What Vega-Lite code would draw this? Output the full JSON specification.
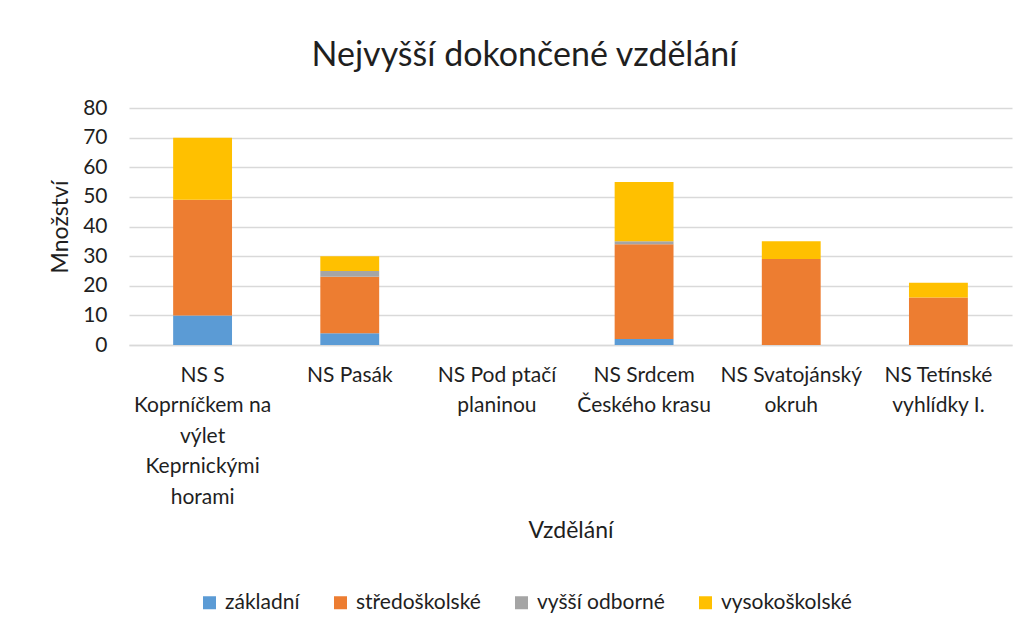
{
  "$schema": "https://vega.github.io/schema/vega-lite/v6.json",
  "autosize": "none",
  "width": 883,
  "height": 237,
  "padding": {"left": 129, "top": 108, "right": 16, "bottom": 289},
  "background": "white",
  "config": {
    "font": "Lato",
    "view": {"stroke": null},
    "axis": {"labelColor": "#1f1f1f", "titleColor": "#1f1f1f", "labelFont": "Lato", "titleFont": "Lato", "titleFontWeight": "normal"},
    "legend": {"labelColor": "#1f1f1f", "labelFont": "Lato"}
  },
  "title": {
    "text": "Nejvyšší dokončené vzdělání",
    "fontSize": 34,
    "fontWeight": "normal",
    "color": "#1f1f1f",
    "font": "Lato",
    "anchor": "middle",
    "dx": -46,
    "offset": 24
  },
  "data": {
    "values": [
      {"trasa": "NS S|Koprníčkem na|výlet|Keprnickými|horami", "vzdelani": "základní", "poradi": 1, "pocet": 10},
      {"trasa": "NS S|Koprníčkem na|výlet|Keprnickými|horami", "vzdelani": "středoškolské", "poradi": 2, "pocet": 39},
      {"trasa": "NS S|Koprníčkem na|výlet|Keprnickými|horami", "vzdelani": "vyšší odborné", "poradi": 3, "pocet": 0},
      {"trasa": "NS S|Koprníčkem na|výlet|Keprnickými|horami", "vzdelani": "vysokoškolské", "poradi": 4, "pocet": 21},
      {"trasa": "NS Pasák", "vzdelani": "základní", "poradi": 1, "pocet": 4},
      {"trasa": "NS Pasák", "vzdelani": "středoškolské", "poradi": 2, "pocet": 19},
      {"trasa": "NS Pasák", "vzdelani": "vyšší odborné", "poradi": 3, "pocet": 2},
      {"trasa": "NS Pasák", "vzdelani": "vysokoškolské", "poradi": 4, "pocet": 5},
      {"trasa": "NS Pod ptačí|planinou", "vzdelani": "základní", "poradi": 1, "pocet": 0},
      {"trasa": "NS Pod ptačí|planinou", "vzdelani": "středoškolské", "poradi": 2, "pocet": 0},
      {"trasa": "NS Pod ptačí|planinou", "vzdelani": "vyšší odborné", "poradi": 3, "pocet": 0},
      {"trasa": "NS Pod ptačí|planinou", "vzdelani": "vysokoškolské", "poradi": 4, "pocet": 0},
      {"trasa": "NS Srdcem|Českého krasu", "vzdelani": "základní", "poradi": 1, "pocet": 2},
      {"trasa": "NS Srdcem|Českého krasu", "vzdelani": "středoškolské", "poradi": 2, "pocet": 32},
      {"trasa": "NS Srdcem|Českého krasu", "vzdelani": "vyšší odborné", "poradi": 3, "pocet": 1},
      {"trasa": "NS Srdcem|Českého krasu", "vzdelani": "vysokoškolské", "poradi": 4, "pocet": 20},
      {"trasa": "NS Svatojánský|okruh", "vzdelani": "základní", "poradi": 1, "pocet": 0},
      {"trasa": "NS Svatojánský|okruh", "vzdelani": "středoškolské", "poradi": 2, "pocet": 29},
      {"trasa": "NS Svatojánský|okruh", "vzdelani": "vyšší odborné", "poradi": 3, "pocet": 0},
      {"trasa": "NS Svatojánský|okruh", "vzdelani": "vysokoškolské", "poradi": 4, "pocet": 6},
      {"trasa": "NS Tetínské|vyhlídky I.", "vzdelani": "základní", "poradi": 1, "pocet": 0},
      {"trasa": "NS Tetínské|vyhlídky I.", "vzdelani": "středoškolské", "poradi": 2, "pocet": 16},
      {"trasa": "NS Tetínské|vyhlídky I.", "vzdelani": "vyšší odborné", "poradi": 3, "pocet": 0},
      {"trasa": "NS Tetínské|vyhlídky I.", "vzdelani": "vysokoškolské", "poradi": 4, "pocet": 5}
    ]
  },
  "mark": {"type": "bar"},
  "encoding": {
    "x": {
      "field": "trasa",
      "type": "nominal",
      "sort": null,
      "scale": {"paddingInner": 0.6, "paddingOuter": 0.3},
      "axis": {
        "title": "Vzdělání",
        "titleFontSize": 23,
        "titlePadding": 12,
        "labelAngle": 0,
        "labelFontSize": 21,
        "labelLineHeight": 30.5,
        "labelPadding": 19,
        "labelLimit": 300,
        "labelExpr": "split(datum.label, '|')",
        "ticks": false,
        "domainColor": "#D9D9D9",
        "domainWidth": 1.5
      }
    },
    "y": {
      "field": "pocet",
      "type": "quantitative",
      "stack": "zero",
      "scale": {"domain": [0, 80], "nice": false},
      "axis": {
        "title": "Množství",
        "titleFontSize": 23,
        "titlePadding": 10,
        "values": [0, 10, 20, 30, 40, 50, 60, 70, 80],
        "labelFontSize": 21,
        "labelPadding": 22,
        "ticks": false,
        "domain": false,
        "gridColor": "#D9D9D9",
        "gridWidth": 1.5
      }
    },
    "color": {
      "field": "vzdelani",
      "type": "nominal",
      "scale": {
        "domain": ["základní", "středoškolské", "vyšší odborné", "vysokoškolské"],
        "range": ["#5B9BD5", "#ED7D31", "#A5A5A5", "#FFC000"]
      },
      "legend": {
        "title": null,
        "orient": "none",
        "direction": "horizontal",
        "legendX": 70,
        "legendY": 484,
        "symbolType": "square",
        "symbolSize": 169,
        "symbolStrokeWidth": 0,
        "labelFontSize": 21,
        "columnPadding": 30,
        "labelOffset": 5
      }
    },
    "order": {"field": "poradi", "type": "quantitative"}
  }
}
